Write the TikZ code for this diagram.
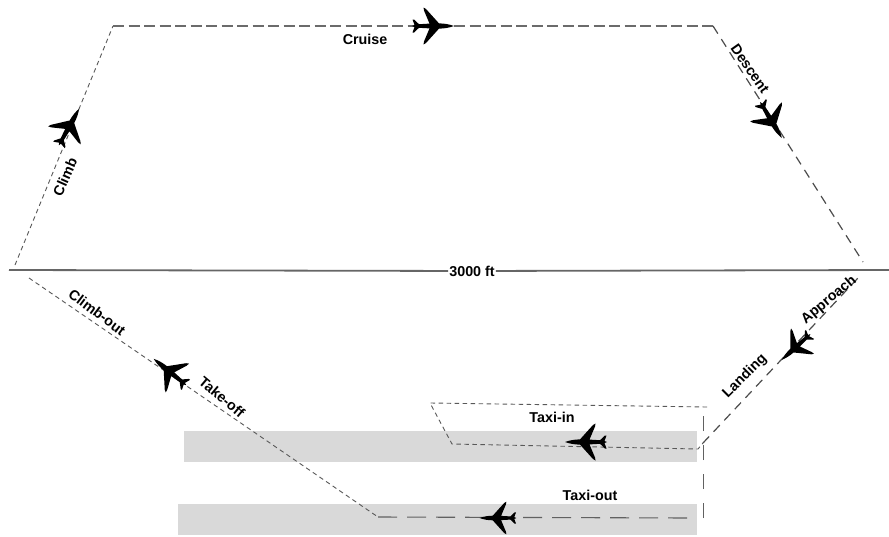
\documentclass[tikz,border=0pt]{standalone}
\usepackage{fontspec}
\setmainfont{Liberation Sans}
\tikzset{
  lbl/.style={font=\fontsize{14.3}{16}\selectfont\bfseries,inner sep=0pt,text=black},
  runway/.style={fill=black!15,draw=none},
  fine/.style={draw=black!65,line width=0.9pt,dash pattern=on 4.5pt off 3.5pt},
  mid/.style={draw=black!70,line width=1.2pt,dash pattern=on 9pt off 6.5pt},
  wide/.style={draw=black!58,line width=1.7pt,dash pattern=on 11pt off 4.5pt},
  roll/.style={draw=black!62,line width=1.1pt,dash pattern=on 19pt off 10pt},
  upright/.style={draw=black!62,line width=1pt,dash pattern=on 15pt off 14pt},
  horizon/.style={draw=black!60,line width=1.8pt},
  plane/.pic={
    \fill[black,line join=round]
      (21,0) .. controls (16,1.8) and (11,2.6) .. (6,2.6)
      -- (-7,17) -- (-9.5,18.5) -- (-9,15.5) -- (-3.5,2.4)
      -- (-14,1.8) -- (-19,6.5) -- (-20.5,6.5) -- (-18.5,1) -- (-21,0)
      -- (-18.5,-1) -- (-20.5,-6.5) -- (-19,-6.5) -- (-14,-1.8)
      -- (-3.5,-2.4) -- (-9,-15.5) -- (-9.5,-18.5) -- (-7,-17) -- (6,-2.6)
      .. controls (11,-2.6) and (16,-1.8) .. (21,0) -- cycle;
  }
}
\begin{document}
\begin{tikzpicture}[x=1pt,y=-1pt]
\useasboundingbox (0,0) rectangle (889,536);
\fill[white] (0,0) rectangle (889,536);
\node[runway,minimum width=513pt,minimum height=30.5pt,inner sep=0pt,anchor=north west] (rwyA) at (184,431) {};
\node[runway,minimum width=519pt,minimum height=31pt,inner sep=0pt,anchor=north west] (rwyB) at (178,504) {};

\coordinate (climbStart) at (15,265);
\coordinate (cruiseStart) at (113,26);
\coordinate (cruiseEnd) at (713,26);
\coordinate (descentEnd) at (863,262);
\coordinate (hLeft) at (9,270);
\coordinate (hRight) at (889,270);
\coordinate (outStart) at (29,278);
\coordinate (outEnd) at (378,517);
\coordinate (rollEnd) at (691,518);
\coordinate (vBottom) at (703,518);
\coordinate (vTop) at (703,413);
\coordinate (topRight) at (707,407);
\coordinate (topLeft) at (430,403);
\coordinate (inCorner) at (452,444);
\coordinate (inEnd) at (698,449);
\coordinate (landStart) at (703,443);
\coordinate (landEnd) at (858,278);

\node[lbl,fill=white,inner xsep=1pt,inner ysep=1pt] (alt) at (472,271) {3000 ft};
\draw[horizon] (hLeft) -- (alt);
\draw[horizon] (alt) -- (hRight);

\draw[fine] (climbStart) -- (cruiseStart);
\draw[wide] (cruiseStart) -- (cruiseEnd);
\draw[mid] (cruiseEnd) -- (descentEnd);
\draw[fine] (outStart) -- (outEnd);
\draw[roll] (outEnd) -- (rollEnd);
\draw[upright] (vBottom) -- (vTop);
\draw[fine] (topRight) -- (topLeft) -- (inCorner) -- (inEnd) -- (landStart);
\draw[mid] (landStart) -- (landEnd);

\pic[rotate=61] at (69,127) {plane};
\pic at (433,26) {plane};
\pic[rotate=-59] at (771,120) {plane};
\pic[rotate=141] at (170,372) {plane};
\pic[rotate=222,scale=0.92] at (796,347) {plane};
\pic[rotate=180] at (586,442) {plane};
\pic[rotate=180,scale=0.88] at (498,518) {plane};

\node[lbl,rotate=66] (climb) at (65,177) {Climb};
\node[lbl] (cruise) at (365,39.5) {Cruise};
\node[lbl,rotate=-55] (descent) at (750,69) {Descent};
\node[lbl,rotate=-37] (climbout) at (97,312) {Climb-out};
\node[lbl,rotate=-40] (takeoff) at (222,397) {Take-off};
\node[lbl,rotate=40] (approach) at (829,300) {Approach};
\node[lbl,rotate=45] (landing) at (745,376) {Landing};
\node[lbl] (taxiin) at (552,417) {Taxi-in};
\node[lbl] (taxiout) at (590,495) {Taxi-out};
\end{tikzpicture}
\end{document}
